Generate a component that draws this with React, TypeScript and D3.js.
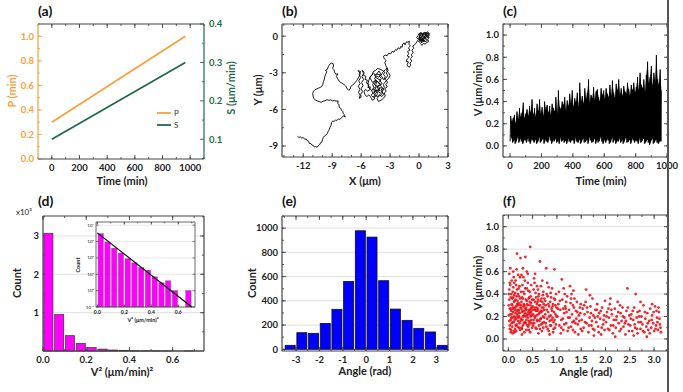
import * as d3 from 'd3';
import React from 'react';

const FONT = 'Lato, "Open Sans", Arial, sans-serif';
const AX = '#444';

// ---- (a) model parameters vs time
const aTime = [0, 965];
const aP = [0.3, 1.0];
const aS = [0.1, 0.3];

// ---- (b) cell trajectory (um)
const bTrack: [number, number][] = [
  [-12.6, -8.2], [-12.45, -8.3], [-12.3, -8.25], [-12.15, -8.35], [-12.0, -8.3], [-11.85, -8.45], [-11.7, -8.42],
  [-11.6, -8.55], [-11.45, -8.6], [-11.38, -8.78], [-11.2, -8.8], [-11.1, -8.92], [-10.95, -8.95], [-10.85, -9.08],
  [-10.7, -9.05], [-10.55, -9.1], [-10.45, -8.98], [-10.3, -8.9], [-10.2, -8.72], [-10.05, -8.65], [-10.0, -8.45],
  [-9.92, -8.3], [-9.8, -8.18], [-9.65, -8.1], [-9.5, -7.98], [-9.42, -7.8], [-9.3, -7.65], [-9.22, -7.45],
  [-9.12, -7.3], [-9.08, -7.1], [-8.95, -6.95], [-8.8, -6.98], [-8.65, -6.88], [-8.5, -6.9], [-8.35, -6.78],
  [-8.2, -6.82], [-8.05, -6.7], [-7.92, -6.58], [-7.78, -6.52], [-7.66, -6.64], [-7.72, -6.45], [-7.85, -6.35],
  [-7.9, -6.18], [-8.05, -6.05], [-8.12, -5.9], [-8.28, -5.82], [-8.3, -5.62], [-8.42, -5.5], [-8.38, -5.3],
  [-8.6, -5.32], [-8.75, -5.26], [-8.95, -5.3], [-9.15, -5.22], [-9.35, -5.26], [-9.55, -5.2], [-9.75, -5.3],
  [-9.95, -5.32], [-10.15, -5.42], [-10.35, -5.35], [-10.55, -5.3], [-10.75, -5.22], [-10.92, -5.1], [-10.98, -4.9],
  [-11.02, -4.7], [-10.95, -4.52], [-10.8, -4.4], [-10.6, -4.32], [-10.42, -4.26], [-10.25, -4.2], [-10.08, -4.12],
  [-9.98, -3.95], [-9.9, -3.72], [-9.8, -3.5], [-9.76, -3.28], [-9.65, -3.08], [-9.55, -2.88], [-9.7, -2.8],
  [-9.5, -2.72], [-9.42, -2.52], [-9.32, -2.38], [-9.2, -2.25], [-9.05, -2.2], [-8.9, -2.26], [-8.86, -2.44],
  [-8.96, -2.62], [-8.82, -2.74], [-8.75, -2.95], [-8.62, -3.12], [-8.42, -3.08], [-8.55, -3.3], [-8.42, -3.5],
  [-8.28, -3.68], [-8.1, -3.8], [-7.92, -3.88], [-7.75, -3.98], [-7.6, -4.08], [-7.48, -4.26], [-7.32, -4.42],
  [-7.15, -4.36], [-7.08, -4.15], [-6.92, -4.0], [-6.75, -3.92], [-6.6, -3.78], [-6.45, -3.62], [-6.3, -3.42],
  [-6.18, -3.25], [-6.1, -3.05], [-6.32, -2.82], [-6.05, -2.9], [-6.2, -3.15], [-6.05, -3.4], [-6.25, -3.65],
  [-6.1, -3.9], [-6.3, -4.1], [-6.12, -4.35], [-6.28, -4.6], [-6.1, -4.85], [-6.2, -5.1], [-6.0, -5.0],
  [-6.05, -4.75], [-5.85, -4.55], [-6.0, -4.3], [-5.8, -4.05], [-5.95, -3.8], [-5.75, -3.55], [-5.9, -3.3],
  [-5.75, -3.05], [-5.9, -2.8],
  [-5.7, -2.95], [-5.75, -3.2], [-5.5, -3.3], [-5.6, -3.55], [-5.35, -3.6], [-5.45, -3.85], [-5.2, -3.95],
  [-5.3, -4.2], [-5.05, -4.15], [-5.1, -4.4], [-5.35, -4.5], [-5.55, -4.35], [-5.7, -4.55], [-5.6, -4.8],
  [-5.4, -4.95], [-5.2, -4.8], [-5.0, -5.0], [-4.85, -5.25], [-4.6, -5.15], [-4.7, -4.9], [-4.5, -4.75],
  [-4.65, -4.55], [-4.4, -4.45], [-4.55, -4.25], [-4.3, -4.1], [-4.5, -3.95], [-4.35, -3.75], [-4.6, -3.65],
  [-4.8, -3.8], [-4.95, -3.6], [-5.1, -3.4], [-4.9, -3.2], [-4.7, -3.05], [-4.5, -3.2], [-4.3, -3.0],
  [-4.15, -2.85], [-4.0, -3.05], [-4.1, -3.3], [-3.9, -3.45], [-4.05, -3.65], [-3.85, -3.85], [-4.0, -4.05],
  [-3.8, -4.25], [-3.95, -4.45], [-3.75, -4.6], [-3.9, -4.8], [-4.15, -4.9], [-4.35, -5.1], [-4.2, -5.35],
  [-3.95, -5.25], [-3.7, -5.1], [-3.5, -4.9], [-3.6, -4.65], [-3.4, -4.5], [-3.55, -4.3], [-3.3, -4.15],
  [-3.45, -3.95], [-3.25, -3.8], [-3.4, -3.6], [-3.6, -3.5], [-3.5, -3.3], [-3.7, -3.15], [-3.55, -2.95],
  [-3.8, -2.8], [-4.05, -2.7], [-4.3, -2.65], [-4.5, -2.8], [-4.75, -2.9], [-4.85, -3.15], [-5.05, -3.3],
  [-5.2, -3.6], [-5.3, -3.9], [-5.2, -4.25], [-4.95, -4.4], [-4.8, -4.65], [-4.95, -4.85], [-4.75, -5.0],
  [-4.5, -4.95], [-4.3, -4.75], [-4.45, -4.5], [-4.2, -4.35], [-4.35, -4.15], [-4.1, -3.95], [-4.25, -3.75],
  [-4.45, -3.6], [-4.65, -3.75], [-4.8, -3.95], [-4.7, -4.2], [-4.85, -4.4], [-4.6, -4.4], [-4.4, -4.6],
  [-4.15, -4.55], [-4.0, -4.7], [-3.8, -4.45], [-3.6, -4.2], [-3.7, -3.95], [-3.5, -3.75], [-3.3, -3.55],
  [-3.1, -3.4], [-3.0, -3.2], [-3.15, -3.0], [-3.35, -2.85], [-3.3, -2.6],
  [-3.5, -2.75], [-3.75, -2.95], [-3.95, -3.2], [-4.2, -3.35], [-4.4, -3.25], [-4.6, -3.45], [-4.4, -3.7],
  [-4.65, -3.9], [-4.45, -4.1], [-4.7, -4.3], [-4.5, -4.5], [-4.75, -4.65], [-4.55, -4.85], [-4.3, -4.95],
  [-4.1, -4.8], [-3.85, -4.95], [-3.65, -4.75], [-3.85, -4.55], [-3.65, -4.35], [-3.9, -4.2], [-4.15, -4.3],
  [-4.3, -4.5], [-4.05, -4.45], [-4.2, -4.1], [-3.95, -3.95], [-4.2, -3.8], [-4.0, -3.6], [-4.25, -3.5],
  [-4.45, -3.4], [-4.6, -3.2], [-4.35, -3.1], [-4.1, -3.15], [-3.85, -3.3], [-3.7, -3.55], [-3.45, -3.45],
  [-3.25, -3.25], [-3.4, -3.0], [-3.2, -2.8], [-3.35, -2.55],
  [-3.45, -2.4], [-3.55, -2.15], [-3.4, -2.0], [-3.6, -1.85], [-3.7, -1.65], [-3.5, -1.55], [-3.3, -1.6],
  [-3.15, -1.4], [-2.95, -1.45], [-2.8, -1.25], [-2.6, -1.3], [-2.45, -1.1], [-2.3, -1.15], [-2.15, -0.95],
  [-2.0, -1.05], [-1.9, -0.85], [-1.75, -0.9], [-1.7, -0.65], [-1.55, -0.55], [-1.45, -0.7], [-1.3, -0.45],
  [-1.15, -0.5], [-1.0, -0.4], [-1.05, -0.65], [-0.9, -0.8], [-1.1, -0.95], [-0.95, -1.15], [-1.2, -1.25],
  [-1.05, -1.45], [-1.25, -1.6], [-1.0, -1.7], [-1.2, -1.85], [-1.35, -2.05], [-1.1, -2.1], [-1.25, -2.35],
  [-1.05, -2.55], [-0.85, -2.4], [-0.95, -2.2], [-0.75, -2.05], [-0.9, -1.85], [-0.7, -1.7], [-0.8, -1.5],
  [-0.6, -1.35], [-0.75, -1.15], [-0.55, -1.0], [-0.65, -0.8], [-0.45, -0.7], [-0.3, -0.55],
  [-0.15, -0.35], [0.05, -0.5], [0.2, -0.3], [0.0, -0.15], [0.15, 0.05], [-0.05, 0.15], [0.2, 0.25],
  [0.35, 0.1], [0.45, -0.1], [0.3, -0.25], [0.5, -0.4], [0.65, -0.25], [0.55, -0.05], [0.7, 0.1],
  [0.6, 0.25], [0.8, 0.3], [0.95, 0.2], [0.85, 0.0], [1.05, -0.1], [0.9, -0.25], [1.0, -0.45],
  [0.8, -0.5], [0.65, -0.65], [0.45, -0.6], [0.3, -0.75], [0.15, -0.6], [0.3, -0.45], [0.1, -0.25],
  [0.25, -0.05], [0.4, 0.15], [0.25, 0.3], [0.05, 0.25], [-0.1, 0.05], [-0.25, -0.1], [-0.1, -0.25],
  [0.1, -0.4], [0.35, -0.35], [0.55, -0.2], [0.75, -0.05], [0.95, 0.05], [1.1, 0.2], [0.9, 0.35],
  [0.7, 0.2], [0.5, 0.3], [0.35, 0.0], [0.15, -0.15],
  [0.3, -0.1], [0.5, 0.05], [0.65, -0.1], [0.8, 0.1], [0.7, 0.3], [0.45, 0.25], [0.25, 0.1],
  [0.05, 0.0], [0.2, -0.2], [0.4, -0.3], [0.6, -0.45], [0.85, -0.35], [0.75, -0.2], [0.55, -0.1],
  [0.35, -0.2], [0.15, -0.35], [-0.05, -0.2], [0.1, 0.1], [0.3, 0.2], [0.55, 0.15], [0.75, 0.0],
  [0.9, -0.15], [1.05, 0.05], [0.95, 0.25], [0.75, 0.15], [0.6, 0.05], [0.45, -0.2], [0.25, -0.5],
  [0.45, -0.45], [0.6, -0.3],
];

// ---- (c) speed vs time: per-sample low / high values (sampled every cStep min)
const cStep = 8;
const cHigh = [
  0.27, 0.22, 0.25, 0.28, 0.20, 0.31, 0.24, 0.34, 0.26, 0.30,
  0.39, 0.25, 0.29, 0.33, 0.27, 0.36, 0.30, 0.42, 0.28, 0.34,
  0.26, 0.38, 0.31, 0.42, 0.29, 0.35, 0.27, 0.40, 0.33, 0.37,
  0.30, 0.36, 0.28, 0.38, 0.34, 0.31, 0.44, 0.29, 0.50, 0.35,
  0.33, 0.40, 0.37, 0.44, 0.32, 0.41, 0.36, 0.47, 0.38, 0.50,
  0.35, 0.43, 0.39, 0.48, 0.36, 0.57, 0.40, 0.45, 0.38, 0.52,
  0.42, 0.48, 0.60, 0.39, 0.46, 0.43, 0.53, 0.41, 0.49, 0.51,
  0.44, 0.40, 0.52, 0.46, 0.50, 0.42, 0.52, 0.47, 0.44, 0.55,
  0.45, 0.59, 0.48, 0.43, 0.56, 0.50, 0.60, 0.46, 0.52, 0.45,
  0.54, 0.49, 0.47, 0.57, 0.51, 0.45, 0.55, 0.50, 0.57, 0.48,
  0.53, 0.62, 0.50, 0.66, 0.55, 0.52, 0.60, 0.49, 0.64, 0.76,
  0.56, 0.62, 0.72, 0.54, 0.66, 0.58, 0.82, 0.60, 0.55, 0.69, 0.50,
];
const cLow = [
  0.04, 0.08, 0.03, 0.06, 0.02, 0.05, 0.09, 0.03, 0.07, 0.04,
  0.02, 0.06, 0.05, 0.03, 0.08, 0.04, 0.02, 0.07, 0.05, 0.03,
  0.06, 0.02, 0.04, 0.08, 0.03, 0.05, 0.07, 0.02, 0.06, 0.04,
  0.03, 0.09, 0.05, 0.02, 0.06, 0.04, 0.07, 0.03, 0.05, 0.02,
  0.08, 0.04, 0.06, 0.03, 0.05, 0.02, 0.07, 0.04, 0.03, 0.06,
  0.05, 0.02, 0.08, 0.04, 0.03, 0.06, 0.02, 0.05, 0.07, 0.03,
  0.04, 0.06, 0.02, 0.08, 0.05, 0.03, 0.04, 0.07, 0.02, 0.06,
  0.03, 0.05, 0.09, 0.04, 0.02, 0.06, 0.03, 0.07, 0.05, 0.02,
  0.04, 0.08, 0.03, 0.06, 0.02, 0.05, 0.04, 0.07, 0.03, 0.06,
  0.02, 0.05, 0.08, 0.03, 0.04, 0.06, 0.02, 0.07, 0.05, 0.03,
  0.06, 0.04, 0.02, 0.08, 0.03, 0.05, 0.07, 0.02, 0.04, 0.06,
  0.03, 0.01, 0.05, 0.07, 0.02, 0.04, 0.06, 0.03, 0.02, 0.05, 0.04,
];

// ---- (d) V^2 histogram
const dEdges = [0, 0.05, 0.1, 0.15, 0.2, 0.25, 0.3, 0.35, 0.4, 0.45, 0.5, 0.55, 0.6, 0.65, 0.7];
const dCounts = [3070, 950, 400, 200, 90, 50, 26, 18, 7, 3, 4, 1, 0, 1];
const dFit: [number, number][] = [[0, 3400], [0.7, 0.1]];
const dInsetYTicks = [0.1, 1, 10, 100, 1000, 10000];
const dInsetYLabels = ['10⁻¹', '10⁰', '10¹', '10²', '10³', '10⁴'];

// ---- (e) angle histogram
const eEdges = [-3.5, -3, -2.5, -2, -1.5, -1, -0.5, 0, 0.5, 1, 1.5, 2, 2.5, 3, 3.5];
const eCounts = [33, 137, 132, 214, 330, 560, 978, 926, 566, 332, 239, 173, 143, 33];

// ---- (f) speed vs turning angle [angle, V]
const fPoints: [number, number][] = [
  [0.01, 0.21], [0.02, 0.35], [0.03, 0.12], [0.04, 0.48], [0.05, 0.27], [0.06, 0.08], [0.07, 0.31], [0.08, 0.19],
  [0.09, 0.42], [0.10, 0.24], [0.11, 0.15], [0.12, 0.33], [0.13, 0.06], [0.14, 0.28], [0.15, 0.52], [0.16, 0.18],
  [0.17, 0.38], [0.18, 0.22], [0.19, 0.11], [0.20, 0.30], [0.21, 0.45], [0.22, 0.26], [0.23, 0.14], [0.24, 0.36],
  [0.02, 0.58], [0.03, 0.27], [0.05, 0.17], [0.06, 0.40], [0.08, 0.30], [0.09, 0.05], [0.11, 0.28], [0.12, 0.20],
  [0.14, 0.09], [0.15, 0.35], [0.17, 0.25], [0.18, 0.44], [0.20, 0.16], [0.21, 0.32], [0.23, 0.23], [0.24, 0.55],
  [0.01, 0.30], [0.04, 0.22], [0.07, 0.14], [0.10, 0.37], [0.13, 0.26], [0.16, 0.29], [0.19, 0.34], [0.22, 0.20],
  [0.25, 0.28], [0.04, 0.63], [0.10, 0.60], [0.18, 0.76], [0.12, 0.50], [0.06, 0.25], [0.20, 0.40], [0.08, 0.36],
  [0.14, 0.19], [0.22, 0.10], [0.02, 0.16], [0.16, 0.07],
  [0.02, 0.44], [0.03, 0.09], [0.05, 0.37], [0.06, 0.19], [0.07, 0.52], [0.08, 0.11], [0.09, 0.27], [0.10, 0.46],
  [0.11, 0.07], [0.12, 0.39], [0.13, 0.17], [0.14, 0.41], [0.15, 0.23], [0.16, 0.48], [0.17, 0.13], [0.18, 0.31],
  [0.19, 0.26], [0.20, 0.57], [0.21, 0.19], [0.22, 0.38], [0.23, 0.31], [0.24, 0.08], [0.01, 0.40], [0.03, 0.50],
  [0.05, 0.06], [0.07, 0.22], [0.09, 0.15], [0.11, 0.55], [0.13, 0.34], [0.15, 0.12], [0.17, 0.62], [0.19, 0.20],
  [0.21, 0.24], [0.23, 0.47], [0.25, 0.16],
  [0.26, 0.18], [0.27, 0.33], [0.28, 0.24], [0.29, 0.48], [0.30, 0.12], [0.31, 0.29], [0.32, 0.21], [0.33, 0.40],
  [0.34, 0.15], [0.35, 0.27], [0.36, 0.35], [0.37, 0.08], [0.38, 0.22], [0.39, 0.31], [0.40, 0.19], [0.41, 0.43],
  [0.42, 0.26], [0.43, 0.13], [0.44, 0.33], [0.45, 0.23], [0.46, 0.38], [0.47, 0.17], [0.48, 0.28], [0.49, 0.10],
  [0.26, 0.42], [0.28, 0.09], [0.30, 0.36], [0.31, 0.55], [0.33, 0.25], [0.35, 0.20], [0.36, 0.14], [0.38, 0.45],
  [0.40, 0.30], [0.42, 0.16], [0.44, 0.25], [0.45, 0.06], [0.47, 0.32], [0.48, 0.21], [0.27, 0.27], [0.29, 0.17],
  [0.32, 0.31], [0.34, 0.52], [0.37, 0.26], [0.39, 0.12], [0.41, 0.24], [0.43, 0.37], [0.46, 0.20], [0.49, 0.26],
  [0.25, 0.72], [0.35, 0.73], [0.45, 0.82], [0.30, 0.63], [0.40, 0.58], [0.28, 0.04], [0.44, 0.42],
  [0.26, 0.30], [0.27, 0.10], [0.28, 0.37], [0.29, 0.25], [0.30, 0.20], [0.31, 0.42], [0.32, 0.14], [0.33, 0.30],
  [0.34, 0.23], [0.35, 0.45], [0.36, 0.28], [0.37, 0.17], [0.38, 0.34], [0.39, 0.21], [0.40, 0.50], [0.41, 0.11],
  [0.42, 0.36], [0.43, 0.22], [0.44, 0.15], [0.45, 0.30], [0.46, 0.27], [0.47, 0.48], [0.48, 0.14], [0.49, 0.35],
  [0.27, 0.57], [0.33, 0.06], [0.38, 0.60], [0.42, 0.08], [0.47, 0.24],
  [0.51, 0.22], [0.52, 0.35], [0.53, 0.14], [0.54, 0.28], [0.55, 0.19], [0.56, 0.41], [0.57, 0.25], [0.58, 0.09],
  [0.59, 0.31], [0.60, 0.17], [0.61, 0.27], [0.62, 0.38], [0.63, 0.12], [0.64, 0.23], [0.65, 0.30], [0.66, 0.18],
  [0.67, 0.47], [0.68, 0.24], [0.69, 0.07], [0.70, 0.33], [0.71, 0.20], [0.72, 0.28], [0.73, 0.15], [0.74, 0.36],
  [0.52, 0.17], [0.54, 0.50], [0.56, 0.26], [0.58, 0.21], [0.60, 0.33], [0.62, 0.05], [0.64, 0.16], [0.66, 0.34],
  [0.68, 0.13], [0.70, 0.25], [0.72, 0.42], [0.74, 0.19], [0.65, 0.69], [0.78, 0.63], [0.55, 0.58], [0.61, 0.44],
  [0.50, 0.29], [0.51, 0.12], [0.52, 0.44], [0.53, 0.26], [0.54, 0.20], [0.55, 0.33], [0.56, 0.10], [0.57, 0.37],
  [0.58, 0.28], [0.59, 0.16], [0.60, 0.25], [0.61, 0.35], [0.62, 0.22], [0.63, 0.40], [0.64, 0.30], [0.65, 0.09],
  [0.66, 0.25], [0.67, 0.18], [0.68, 0.36], [0.69, 0.28], [0.70, 0.14], [0.71, 0.39], [0.72, 0.10], [0.73, 0.31],
  [0.74, 0.26], [0.53, 0.54], [0.59, 0.47], [0.70, 0.52],
  [0.76, 0.22], [0.77, 0.30], [0.78, 0.11], [0.79, 0.26], [0.80, 0.18], [0.81, 0.38], [0.82, 0.24], [0.83, 0.07],
  [0.84, 0.29], [0.85, 0.16], [0.86, 0.33], [0.87, 0.21], [0.88, 0.12], [0.89, 0.27], [0.90, 0.45], [0.91, 0.19],
  [0.92, 0.31], [0.93, 0.09], [0.94, 0.24], [0.95, 0.17], [0.96, 0.35], [0.97, 0.22], [0.98, 0.13], [0.99, 0.28],
  [0.80, 0.50], [0.85, 0.04], [0.90, 0.25], [0.95, 0.62], [0.87, 0.41], [0.93, 0.15],
  [0.76, 0.34], [0.77, 0.14], [0.79, 0.40], [0.81, 0.09], [0.82, 0.31], [0.84, 0.20], [0.86, 0.12], [0.88, 0.37],
  [0.89, 0.17], [0.91, 0.29], [0.92, 0.06], [0.94, 0.36], [0.96, 0.10], [0.97, 0.30], [0.99, 0.20], [0.83, 0.46],
  [0.98, 0.40],
  [1.01, 0.20], [1.03, 0.31], [1.05, 0.12], [1.07, 0.26], [1.09, 0.17], [1.11, 0.35], [1.13, 0.08], [1.15, 0.23],
  [1.17, 0.29], [1.19, 0.14], [1.21, 0.38], [1.23, 0.19], [1.25, 0.26], [1.27, 0.47], [1.29, 0.11], [1.31, 0.22],
  [1.33, 0.30], [1.35, 0.16], [1.37, 0.06], [1.39, 0.25], [1.41, 0.33], [1.43, 0.13], [1.45, 0.21], [1.47, 0.28],
  [1.49, 0.09], [1.04, 0.42], [1.08, 0.05], [1.12, 0.18], [1.16, 0.40], [1.20, 0.24], [1.24, 0.10], [1.28, 0.32],
  [1.32, 0.15], [1.36, 0.36], [1.40, 0.18], [1.44, 0.04], [1.48, 0.23], [1.10, 0.53], [1.18, 0.27], [1.30, 0.40],
  [1.02, 0.27], [1.06, 0.34], [1.09, 0.10], [1.13, 0.27], [1.15, 0.13], [1.19, 0.33], [1.22, 0.07], [1.26, 0.19],
  [1.29, 0.36], [1.33, 0.08], [1.35, 0.28], [1.38, 0.14], [1.42, 0.24], [1.46, 0.16], [1.49, 0.31], [1.14, 0.45],
  [1.34, 0.43],
  [1.51, 0.17], [1.53, 0.27], [1.55, 0.10], [1.57, 0.22], [1.59, 0.33], [1.61, 0.14], [1.63, 0.24], [1.65, 0.06],
  [1.67, 0.19], [1.69, 0.29], [1.71, 0.12], [1.73, 0.36], [1.75, 0.21], [1.77, 0.08], [1.79, 0.26], [1.81, 0.15],
  [1.83, 0.31], [1.85, 0.11], [1.87, 0.23], [1.89, 0.18], [1.91, 0.04], [1.93, 0.28], [1.95, 0.13], [1.97, 0.21],
  [1.99, 0.34], [1.60, 0.44], [1.68, 0.39], [1.76, 0.03], [1.84, 0.20], [1.92, 0.10], [1.56, 0.30], [1.72, 0.16],
  [1.52, 0.07], [1.58, 0.15], [1.62, 0.28], [1.66, 0.12], [1.70, 0.23], [1.74, 0.09], [1.78, 0.19], [1.82, 0.26],
  [1.86, 0.06], [1.90, 0.25], [1.96, 0.17], [1.98, 0.08],
  [2.01, 0.15], [2.03, 0.24], [2.05, 0.09], [2.07, 0.19], [2.09, 0.31], [2.11, 0.12], [2.13, 0.22], [2.15, 0.05],
  [2.17, 0.17], [2.19, 0.27], [2.21, 0.10], [2.23, 0.20], [2.25, 0.33], [2.27, 0.14], [2.29, 0.07], [2.31, 0.23],
  [2.33, 0.16], [2.35, 0.28], [2.37, 0.11], [2.39, 0.19], [2.41, 0.04], [2.43, 0.25], [2.45, 0.45], [2.47, 0.13],
  [2.49, 0.21], [2.10, 0.36], [2.20, 0.02], [2.30, 0.30], [2.40, 0.14], [2.06, 0.27],
  [2.02, 0.20], [2.08, 0.08], [2.12, 0.26], [2.16, 0.12], [2.22, 0.17], [2.26, 0.24], [2.32, 0.09], [2.36, 0.20],
  [2.42, 0.16], [2.46, 0.28], [2.48, 0.07],
  [2.51, 0.12], [2.53, 0.22], [2.55, 0.07], [2.57, 0.17], [2.59, 0.28], [2.61, 0.10], [2.62, 0.40], [2.64, 0.19],
  [2.66, 0.05], [2.68, 0.15], [2.70, 0.25], [2.72, 0.09], [2.74, 0.20], [2.76, 0.13], [2.78, 0.30], [2.80, 0.06],
  [2.82, 0.18], [2.84, 0.11], [2.86, 0.23], [2.88, 0.08], [2.90, 0.16], [2.92, 0.27], [2.94, 0.10], [2.96, 0.21],
  [2.98, 0.14], [3.00, 0.07], [3.02, 0.29], [3.04, 0.12], [3.06, 0.19], [3.08, 0.08], [3.10, 0.24], [3.12, 0.13],
  [3.14, 0.06], [2.58, 0.03], [2.72, 0.33], [2.85, 0.02], [2.96, 0.31], [3.05, 0.25], [3.11, 0.18], [2.66, 0.24],
  [2.52, 0.18], [2.56, 0.25], [2.60, 0.13], [2.65, 0.09], [2.69, 0.20], [2.73, 0.15], [2.77, 0.07], [2.81, 0.24],
  [2.87, 0.14], [2.91, 0.05], [2.95, 0.17], [2.99, 0.24], [3.03, 0.09], [3.07, 0.15], [3.09, 0.28], [3.13, 0.10],
];

type Box = { l: number; r: number; t: number; b: number };
type Scale = (v: number) => number;

const steps = (a: number, b: number, s: number) =>
  d3.range(Math.round((b - a) / s) + 1).map(i => +(a + i * s).toFixed(6));

type Side = { scale: Scale; major: number[]; minor: number[]; fmt?: (v: number) => string; color?: string };

type FrameProps = {
  box: Box;
  bottom: Side;
  left: Side;
  right?: Side;
  grid?: number[];
  fs?: number;
  tl?: number;
  sw?: number;
  labelGap?: number;
};

const Frame: React.FC<FrameProps> = ({ box, bottom, left, right, grid, fs = 9.5, tl = 4, sw = 1.2, labelGap = 11.5 }) => {
  const rs = right ?? { ...left, fmt: undefined };
  const lc = left.color ?? AX;
  const rc = right?.color ?? AX;
  return (
    <g fontFamily={FONT} fontWeight="bold">
      {grid?.map(v => (
        <line key={'g' + v} x1={box.l} x2={box.r} y1={left.scale(v)} y2={left.scale(v)} stroke="#d8d8d8" strokeWidth={0.8} />
      ))}
      {[...bottom.major.map(v => [v, tl]), ...bottom.minor.map(v => [v, tl / 2])].map(([v, len], i) => (
        <g key={'x' + i} stroke={AX} strokeWidth={0.9}>
          <line x1={bottom.scale(v)} x2={bottom.scale(v)} y1={box.b} y2={box.b - len} />
          <line x1={bottom.scale(v)} x2={bottom.scale(v)} y1={box.t} y2={box.t + len} />
        </g>
      ))}
      {[...left.major.map(v => [v, tl]), ...left.minor.map(v => [v, tl / 2])].map(([v, len], i) => (
        <line key={'l' + i} x1={box.l} x2={box.l + len} y1={left.scale(v)} y2={left.scale(v)} stroke={lc} strokeWidth={0.9} />
      ))}
      {[...rs.major.map(v => [v, tl]), ...rs.minor.map(v => [v, tl / 2])].map(([v, len], i) => (
        <line key={'r' + i} x1={box.r} x2={box.r - len} y1={rs.scale(v)} y2={rs.scale(v)} stroke={rc} strokeWidth={0.9} />
      ))}
      <line x1={box.l} x2={box.r} y1={box.t} y2={box.t} stroke={AX} strokeWidth={sw} />
      <line x1={box.l} x2={box.r} y1={box.b} y2={box.b} stroke={AX} strokeWidth={sw} />
      <line x1={box.l} x2={box.l} y1={box.t} y2={box.b} stroke={lc} strokeWidth={sw} />
      <line x1={box.r} x2={box.r} y1={box.t} y2={box.b} stroke={rc} strokeWidth={sw} />
      {bottom.major.map(v => (
        <text key={'xl' + v} x={bottom.scale(v)} y={box.b + labelGap} fontSize={fs} textAnchor="middle" fill="#222">
          {bottom.fmt ? bottom.fmt(v) : String(v)}
        </text>
      ))}
      {left.major.map(v => (
        <text key={'yl' + v} x={box.l - 4} y={left.scale(v)} dy="0.35em" fontSize={fs} textAnchor="end" fill={left.color ?? '#222'}>
          {left.fmt ? left.fmt(v) : String(v)}
        </text>
      ))}
      {right?.fmt && right.major.map(v => (
        <text key={'rl' + v} x={box.r + 5} y={right.scale(v)} dy="0.35em" fontSize={fs} textAnchor="start" fill={right.color ?? '#222'}>
          {right.fmt!(v)}
        </text>
      ))}
    </g>
  );
};

const Title = ({ x, y, children }: { x: number; y: number; children: React.ReactNode }) => (
  <text x={x} y={y} fontFamily={FONT} fontWeight="bold" fontSize={14} fill="#111">{children}</text>
);
const XLab = ({ x, y, children, fs = 11 }: { x: number; y: number; children: React.ReactNode; fs?: number }) => (
  <text x={x} y={y} fontFamily={FONT} fontWeight="bold" fontSize={fs} textAnchor="middle" fill="#222">{children}</text>
);
const YLab = ({ x, y, children, fs = 11, color = '#222' }: { x: number; y: number; children: React.ReactNode; fs?: number; color?: string }) => (
  <text transform={`translate(${x},${y}) rotate(-90)`} fontFamily={FONT} fontWeight="bold" fontSize={fs} textAnchor="middle" fill={color}>{children}</text>
);

const f1 = (v: number) => v.toFixed(1);
const f0 = (v: number) => String(v);

export default function App() {
  // (a)
  const aBox: Box = { l: 38, r: 204, t: 24, b: 159 };
  const ax = d3.scaleLinear().domain([-100, 1100]).range([aBox.l, aBox.r]);
  const ayP = d3.scaleLinear().domain([0, 1.1]).range([aBox.b, aBox.t]);
  const ayS = d3.scaleLinear().domain([0.0487, 0.4]).range([aBox.b, aBox.t]);
  const orange = '#f7a13b';
  const green = '#1f6b48';
  const lineP = d3.line<number>().x((_, i) => ax(aTime[i])).y(d => ayP(d))(aP) ?? '';
  const lineS = d3.line<number>().x((_, i) => ax(aTime[i])).y(d => ayS(d))(aS) ?? '';

  // (b)
  const bBox: Box = { l: 282, r: 448, t: 24, b: 157 };
  const bx = d3.scaleLinear().domain([-14.2, 3]).range([bBox.l, bBox.r]);
  const by = d3.scaleLinear().domain([-9.9, 1]).range([bBox.b, bBox.t]);
  const bPath = d3.line<[number, number]>().x(d => bx(d[0])).y(d => by(d[1]))(bTrack) ?? '';

  // (c)
  const cBox: Box = { l: 503, r: 668, t: 24, b: 157 };
  const cx = d3.scaleLinear().domain([-45, 1006]).range([cBox.l, cBox.r]);
  const cy = d3.scaleLinear().domain([-0.1, 1.1]).range([cBox.b, cBox.t]);
  const cZig: [number, number][] = [];
  cLow.forEach((lo, i) => {
    cZig.push([i * cStep, lo]);
    cZig.push([i * cStep + cStep / 2, cHigh[i]]);
  });
  const cPath = d3.line<[number, number]>().x(d => cx(d[0])).y(d => cy(d[1]))(cZig) ?? '';
  const cBand = d3.area<number>()
    .x((_, i) => cx(i * cStep + cStep / 2))
    .y0((_, i) => cy(cLow[i]))
    .y1(d => cy(d))(cHigh) ?? '';

  // (d)
  const dBox: Box = { l: 43, r: 204, t: 216, b: 351 };
  const dx = d3.scaleLinear().domain([0, 0.745]).range([dBox.l, dBox.r]);
  const dy = d3.scaleLinear().domain([0, 3520]).range([dBox.b, dBox.t]);
  const iBox: Box = { l: 96, r: 195, t: 222, b: 307 };
  const ix = d3.scaleLinear().domain([-0.01, 0.724]).range([iBox.l, iBox.r]);
  const iy = d3.scaleLog().domain([0.1, 15700]).range([iBox.b, iBox.t]);

  // (e)
  const eBox: Box = { l: 282, r: 448, t: 216, b: 351 };
  const ex = d3.scaleLinear().domain([-3.6, 3.5]).range([eBox.l, eBox.r]);
  const ey = d3.scaleLinear().domain([-14, 1100]).range([eBox.b, eBox.t]);

  // (f)
  const fBox: Box = { l: 503, r: 668, t: 215, b: 351 };
  const fx = d3.scaleLinear().domain([-0.11, 3.286]).range([fBox.l, fBox.r]);
  const fy = d3.scaleLinear().domain([-0.107, 1.104]).range([fBox.b, fBox.t]);

  return (
    <svg width={683} height={392} style={{ position: 'absolute', left: 0, top: 0, background: '#fff' }}>
      <rect width={683} height={392} fill="#fff" />

      {/* (a) */}
      <Title x={38} y={16}>(a)</Title>
      <path d={lineP} stroke={orange} strokeWidth={1.8} fill="none" />
      <path d={lineS} stroke={green} strokeWidth={1.8} fill="none" />
      <Frame
        box={aBox}
        bottom={{ scale: ax, major: steps(0, 1000, 200), minor: steps(-100, 1100, 100) }}
        left={{ scale: ayP, major: steps(0, 1, 0.2), minor: steps(0.1, 1.1, 0.1), fmt: f1, color: orange }}
        right={{ scale: ayS, major: steps(0.1, 0.4, 0.1), minor: steps(0.05, 0.35, 0.1), fmt: f1, color: green }}
      />
      <line x1={157} x2={171} y1={113} y2={113} stroke={orange} strokeWidth={1.8} />
      <text x={174} y={116} fontFamily={FONT} fontSize={8} fill="#333">P</text>
      <line x1={157} x2={171} y1={125} y2={125} stroke={green} strokeWidth={1.8} />
      <text x={174} y={128} fontFamily={FONT} fontSize={8} fill="#333">S</text>
      <XLab x={122} y={185}>Time (min)</XLab>
      <YLab x={16} y={91} color={orange}>P (min)</YLab>
      <YLab x={235} y={88} color={green}>S (μm/min)</YLab>

      {/* (b) */}
      <Title x={282} y={16}>(b)</Title>
      <path d={bPath} stroke="#000" strokeWidth={0.9} fill="none" strokeLinejoin="round" />
      <Frame
        box={bBox}
        bottom={{ scale: bx, major: steps(-12, 3, 3), minor: steps(-14, 3, 1), fmt: f0 }}
        left={{ scale: by, major: steps(-9, 0, 3), minor: steps(-9, 0, 1.5), fmt: f0 }}
      />
      <XLab x={365} y={185}>X (μm)</XLab>
      <YLab x={262} y={90}>Y (μm)</YLab>

      {/* (c) */}
      <Title x={503} y={16}>(c)</Title>
      <path d={cBand} fill="#000" />
      <path d={cPath} stroke="#000" strokeWidth={0.8} fill="none" />
      <Frame
        box={cBox}
        bottom={{ scale: cx, major: steps(0, 1000, 200), minor: steps(0, 1000, 100) }}
        left={{ scale: cy, major: steps(0, 1, 0.2), minor: steps(-0.1, 1.1, 0.1), fmt: f1 }}
      />
      <XLab x={601} y={185}>Time (min)</XLab>
      <YLab x={482} y={89}>V (μm/min)</YLab>

      {/* (d) */}
      <Title x={38} y={206}>(d)</Title>
      <text x={16} y={215} fontFamily={FONT} fontSize={8} fill="#222">x10³</text>
      <Frame
        box={dBox}
        grid={[1000, 2000, 3000]}
        bottom={{ scale: dx, major: steps(0, 0.6, 0.2), minor: steps(0, 0.7, 0.1), fmt: f1 }}
        left={{ scale: dy, major: [1000, 2000, 3000], minor: steps(500, 3500, 500), fmt: v => String(v / 1000) }}
      />
      {dCounts.map((c, i) => {
        const w = dEdges[i + 1] - dEdges[i];
        return c > 0 ? (
          <rect key={'d' + i} x={dx(dEdges[i] + w * 0.08)} width={dx(dEdges[i + 1] - w * 0.08) - dx(dEdges[i] + w * 0.08)}
            y={dy(c)} height={dy(0) - dy(c)} fill="#ff00ff" stroke="#333" strokeWidth={0.7} />
        ) : null;
      })}
      <line x1={dBox.l} x2={dBox.r} y1={dBox.b} y2={dBox.b} stroke={AX} strokeWidth={1.2} />
      {/* inset */}
      <rect x={iBox.l} y={iBox.t} width={iBox.r - iBox.l} height={iBox.b - iBox.t} fill="#fff" />
      {dInsetYTicks.map(v => (
        <line key={'ig' + v} x1={iBox.l} x2={iBox.r} y1={iy(v)} y2={iy(v)} stroke="#dcdcdc" strokeWidth={0.6} />
      ))}
      {dCounts.map((c, i) => {
        const w = dEdges[i + 1] - dEdges[i];
        return c > 0 ? (
          <rect key={'di' + i} x={ix(dEdges[i] + w * 0.1)} width={ix(dEdges[i + 1] - w * 0.1) - ix(dEdges[i] + w * 0.1)}
            y={iy(c)} height={iBox.b - iy(c)} fill="#ff00ff" stroke="#777" strokeWidth={0.5} />
        ) : null;
      })}
      <path d={d3.line<[number, number]>().x(d => ix(d[0])).y(d => iy(d[1]))(dFit) ?? ''} stroke="#000" strokeWidth={1.1} fill="none" />
      <Frame
        box={iBox}
        fs={5}
        tl={2.5}
        sw={0.8}
        labelGap={7}
        bottom={{ scale: ix, major: steps(0, 0.6, 0.2), minor: steps(0, 0.7, 0.1), fmt: f1 }}
        left={{ scale: iy, major: [], minor: [], fmt: f0 }}
      />
      {dInsetYTicks.map((v, i) => (
        <g key={'iy' + v}>
          <line x1={iBox.l} x2={iBox.l + 2.5} y1={iy(v)} y2={iy(v)} stroke={AX} strokeWidth={0.7} />
          <line x1={iBox.r} x2={iBox.r - 2.5} y1={iy(v)} y2={iy(v)} stroke={AX} strokeWidth={0.7} />
          <text x={iBox.l - 2} y={iy(v)} dy="0.35em" fontFamily={FONT} fontSize={4.5} textAnchor="end" fill="#222">{dInsetYLabels[i]}</text>
        </g>
      ))}
      <XLab x={143} y={322} fs={5.5}>V² (μm/min)²</XLab>
      <YLab x={80} y={265} fs={5.5}>Count</YLab>
      <XLab x={122} y={376}>V² (μm/min)²</XLab>
      <YLab x={21} y={283}>Count</YLab>

      {/* (e) */}
      <Title x={282} y={206}>(e)</Title>
      <Frame
        box={eBox}
        grid={steps(200, 1000, 200)}
        bottom={{ scale: ex, major: steps(-3, 3, 1), minor: steps(-3.5, 3.5, 0.5), fmt: f0 }}
        left={{ scale: ey, major: steps(0, 1000, 200), minor: steps(0, 1100, 100), fmt: f0 }}
      />
      {eCounts.map((c, i) => {
        const w = eEdges[i + 1] - eEdges[i];
        return (
          <rect key={'e' + i} x={ex(eEdges[i] + w * 0.07)} width={ex(eEdges[i + 1] - w * 0.07) - ex(eEdges[i] + w * 0.07)}
            y={ey(c)} height={ey(0) - ey(c)} fill="#0000ff" stroke="#111" strokeWidth={0.8} />
        );
      })}
      <XLab x={365} y={375}>Angle (rad)</XLab>
      <YLab x={256} y={283}>Count</YLab>

      {/* (f) */}
      <Title x={503} y={206}>(f)</Title>
      <Frame
        box={fBox}
        grid={steps(0, 1, 0.2)}
        bottom={{ scale: fx, major: steps(0, 3, 0.5), minor: steps(0, 3.25, 0.25), fmt: f1 }}
        left={{ scale: fy, major: steps(0, 1, 0.2), minor: steps(-0.1, 1.1, 0.1), fmt: f1 }}
      />
      {fPoints.map(([a, v], i) => (
        <circle key={'f' + i} cx={fx(a)} cy={fy(v)} r={1.4} fill="#e8141c" fillOpacity={0.9} />
      ))}
      <XLab x={586} y={376}>Angle (rad)</XLab>
      <YLab x={482} y={283}>V (μm/min)</YLab>

      {/* window edge */}
      <line x1={668} x2={668} y1={0} y2={392} stroke="#555" strokeWidth={2} />
    </svg>
  );
}
